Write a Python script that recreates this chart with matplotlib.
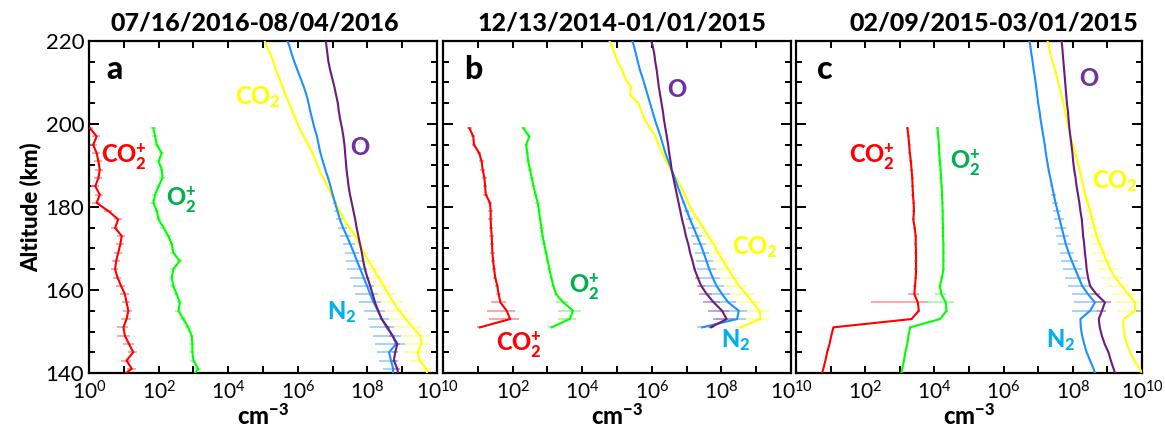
import numpy as np
import matplotlib
matplotlib.use("Agg")
import matplotlib.pyplot as plt
from matplotlib.ticker import FixedLocator, FixedFormatter, MultipleLocator

# Fuentes (parecido a Calibri)
plt.rcParams["font.family"] = "Lato"
plt.rcParams["mathtext.fontset"] = "custom"
plt.rcParams["mathtext.rm"] = "Lato"
plt.rcParams["mathtext.bf"] = "Lato:black"
plt.rcParams["mathtext.it"] = "Lato:italic"
plt.rcParams["mathtext.default"] = "regular"

# ---------------- Datos (log10 de densidad, cm^-3) ----------------
titulos = ["07/16/2016-08/04/2016", "12/13/2014-01/01/2015", "02/09/2015-03/01/2015"]
letras = ["a", "b", "c"]

alt_ion = [199, 197, 195, 193, 191, 189, 187, 185, 183, 181,
           179, 177, 175, 173, 171, 169, 167, 165, 163, 161,
           159, 157, 155, 153, 151, 149, 147, 145, 143, 141, 139]
alt_neu = [221, 219, 217, 215, 213, 211, 209, 207, 205, 203,
           201, 199, 197, 195, 193, 191, 189, 187, 185, 183,
           181, 179, 177, 175, 173, 171, 169, 167, 165, 163,
           161, 159, 157, 155, 153, 151, 149, 147, 145, 143, 141, 139]
alt_ion_b = [199, 197, 195, 193, 191, 189, 187, 185, 183, 181,
             179, 177, 175, 173, 171, 169, 167, 165, 163, 161,
             159, 157, 155, 153, 151]
alt_neu_b = [221, 219, 217, 215, 213, 211, 209, 207, 205, 203,
             201, 199, 197, 195, 193, 191, 189, 187, 185, 183,
             181, 179, 177, 175, 173, 171, 169, 167, 165, 163,
             161, 159, 157, 155, 153, 151]

# Panel a
co2p_a = [0.03, 0.22, 0.12, 0.22, 0.27, 0.31, 0.27, 0.18, 0.31, 0.22,
          0.56, 0.84, 0.75, 0.94, 0.90, 0.84, 0.78, 0.75, 0.82, 0.92,
          1.03, 1.08, 1.13, 1.08, 0.99, 1.03, 1.15, 1.27, 1.08, 1.23, 0.89]
o2p_a = [1.85, 1.90, 1.95, 2.09, 2.00, 2.09, 2.11, 2.00, 1.90, 1.85,
         1.95, 2.00, 2.14, 2.28, 2.38, 2.42, 2.61, 2.42, 2.38, 2.42,
         2.52, 2.61, 2.57, 2.71, 2.85, 2.95, 2.97, 2.97, 3.00, 3.14, 2.95]
co2_a = [5.00, 5.10, 5.20, 5.30, 5.37, 5.47, 5.56, 5.65, 5.75, 5.85,
         5.94, 6.05, 6.17, 6.30, 6.42, 6.52, 6.61, 6.73, 6.85, 6.97,
         7.08, 7.20, 7.33, 7.48, 7.66, 7.78, 7.90, 8.03, 8.18, 8.32,
         8.47, 8.61, 8.75, 8.92, 9.10, 9.30, 9.52, 9.56, 9.44, 9.50, 9.70, 9.72]
n2_a = [5.65, 5.75, 5.82, 5.90, 5.99, 6.08, 6.17, 6.25, 6.31, 6.36,
        6.42, 6.48, 6.55, 6.60, 6.65, 6.72, 6.79, 6.87, 6.94, 7.00,
        7.07, 7.14, 7.21, 7.30, 7.41, 7.51, 7.61, 7.70, 7.80, 7.89,
        7.99, 8.08, 8.18, 8.30, 8.42, 8.55, 8.72, 8.83, 8.62, 8.68, 8.74, 8.72]
o_a = [6.79, 6.82, 6.85, 6.88, 6.93, 6.99, 7.05, 7.10, 7.15, 7.18,
       7.22, 7.27, 7.31, 7.34, 7.36, 7.38, 7.40, 7.43, 7.46, 7.50,
       7.55, 7.60, 7.65, 7.69, 7.74, 7.79, 7.84, 7.88, 7.93, 8.00,
       8.08, 8.15, 8.22, 8.31, 8.41, 8.58, 8.72, 8.86, 8.80, 8.76, 8.86, 8.90]

# errores relativos (fraccion de la densidad)
err_co2p_a = [0.25, 0.25, 0.25, 0.25, 0.25, 0.25, 0.25, 0.25, 0.25, 0.25,
              0.25, 0.25, 0.25, 0.25, 0.25, 0.25, 0.25, 0.25, 0.25, 0.28,
              0.28, 0.28, 0.30, 0.30, 0.35, 0.40, 0.35, 0.30, 0.30, 0.28, 0.28]
err_o2p_a = [0.18, 0.18, 0.18, 0.18, 0.18, 0.18, 0.18, 0.18, 0.18, 0.18,
             0.18, 0.18, 0.18, 0.18, 0.18, 0.18, 0.18, 0.18, 0.18, 0.18,
             0.18, 0.18, 0.18, 0.18, 0.18, 0.18, 0.18, 0.18, 0.18, 0.18, 0.18]
err_co2_a = [0.08, 0.08, 0.08, 0.08, 0.08, 0.08, 0.08, 0.08, 0.08, 0.08,
             0.08, 0.08, 0.08, 0.08, 0.08, 0.08, 0.08, 0.08, 0.08, 0.08,
             0.10, 0.12, 0.15, 0.20, 0.25, 0.30, 0.38, 0.45, 0.50, 0.55,
             0.60, 0.65, 0.70, 0.72, 0.75, 0.78, 0.83, 0.79, 0.55, 0.50, 0.40, 0.35]
err_n2_a = [0.05, 0.05, 0.05, 0.05, 0.05, 0.05, 0.05, 0.05, 0.05, 0.05,
            0.05, 0.05, 0.05, 0.05, 0.05, 0.05, 0.05, 0.05, 0.05, 0.10,
            0.15, 0.20, 0.25, 0.30, 0.35, 0.40, 0.43, 0.50, 0.58, 0.58,
            0.60, 0.63, 0.63, 0.60, 0.60, 0.67, 0.73, 0.76, 0.55, 0.55, 0.50, 0.50]
err_o_a = [0.05, 0.05, 0.05, 0.05, 0.05, 0.05, 0.05, 0.05, 0.05, 0.05,
           0.05, 0.05, 0.05, 0.05, 0.05, 0.05, 0.05, 0.05, 0.05, 0.05,
           0.05, 0.05, 0.05, 0.05, 0.05, 0.05, 0.05, 0.05, 0.05, 0.05,
           0.05, 0.05, 0.08, 0.10, 0.12, 0.15, 0.20, 0.20, 0.20, 0.20, 0.20, 0.20]

# Panel b
co2p_b = [0.76, 0.87, 0.89, 1.04, 1.11, 1.14, 1.19, 1.21, 1.23, 1.35,
          1.37, 1.37, 1.38, 1.40, 1.41, 1.42, 1.44, 1.47, 1.50, 1.56,
          1.60, 1.65, 1.83, 1.93, 1.06]
o2p_b = [2.31, 2.48, 2.39, 2.42, 2.45, 2.50, 2.55, 2.60, 2.66, 2.72,
         2.76, 2.79, 2.83, 2.86, 2.91, 2.96, 3.01, 3.06, 3.11, 3.17,
         3.25, 3.46, 3.74, 3.64, 3.12]
co2_b = [4.72, 4.85, 4.93, 5.02, 5.15, 5.23, 5.40, 5.38, 5.61, 5.71,
         5.80, 5.95, 6.10, 6.20, 6.30, 6.42, 6.55, 6.69, 6.83, 6.95,
         7.05, 7.17, 7.32, 7.48, 7.62, 7.78, 7.90, 8.05, 8.20, 8.35,
         8.50, 8.72, 8.90, 9.10, 9.12, 8.55]
n2_b = [5.40, 5.48, 5.54, 5.60, 5.66, 5.74, 5.81, 5.88, 5.95, 6.02,
        6.09, 6.17, 6.25, 6.32, 6.39, 6.48, 6.57, 6.66, 6.74, 6.83,
        6.92, 7.01, 7.10, 7.20, 7.30, 7.40, 7.49, 7.57, 7.65, 7.75,
        7.86, 8.02, 8.20, 8.50, 8.45, 7.45]
o_b = [5.95, 6.02, 6.07, 6.10, 6.14, 6.17, 6.20, 6.24, 6.28, 6.32,
       6.35, 6.39, 6.43, 6.47, 6.50, 6.54, 6.57, 6.62, 6.67, 6.72,
       6.77, 6.82, 6.87, 6.93, 6.98, 7.05, 7.10, 7.17, 7.23, 7.32,
       7.42, 7.58, 7.78, 8.02, 8.15, 7.70]

err_co2p_b = [0.15, 0.15, 0.15, 0.15, 0.15, 0.15, 0.15, 0.15, 0.15, 0.15,
              0.15, 0.15, 0.15, 0.15, 0.15, 0.15, 0.15, 0.15, 0.15, 0.15,
              0.15, 0.45, 0.73, 0.75, 0.20]
err_o2p_b = [0.15, 0.15, 0.15, 0.15, 0.15, 0.15, 0.15, 0.15, 0.15, 0.15,
             0.15, 0.15, 0.15, 0.15, 0.15, 0.15, 0.15, 0.15, 0.15, 0.15,
             0.15, 0.40, 0.63, 0.55, 0.20]
err_co2_b = [0.10, 0.10, 0.10, 0.10, 0.10, 0.10, 0.10, 0.10, 0.10, 0.10,
             0.10, 0.10, 0.10, 0.10, 0.10, 0.10, 0.10, 0.10, 0.10, 0.10,
             0.10, 0.15, 0.20, 0.28, 0.35, 0.42, 0.48, 0.52, 0.58, 0.62,
             0.66, 0.70, 0.75, 0.80, 0.80, 0.30]
err_n2_b = [0.05, 0.05, 0.05, 0.05, 0.05, 0.05, 0.05, 0.05, 0.05, 0.05,
            0.05, 0.05, 0.05, 0.05, 0.05, 0.05, 0.05, 0.05, 0.05, 0.05,
            0.10, 0.15, 0.22, 0.30, 0.35, 0.40, 0.45, 0.50, 0.55, 0.58,
            0.62, 0.65, 0.70, 0.75, 0.75, 0.30]
err_o_b = [0.05, 0.05, 0.05, 0.05, 0.05, 0.05, 0.05, 0.05, 0.05, 0.05,
           0.05, 0.05, 0.05, 0.05, 0.05, 0.05, 0.05, 0.05, 0.05, 0.05,
           0.05, 0.05, 0.05, 0.05, 0.05, 0.05, 0.05, 0.05, 0.10, 0.15,
           0.25, 0.40, 0.50, 0.60, 0.60, 0.20]

# Panel c
co2p_c = [3.22, 3.25, 3.27, 3.29, 3.32, 3.34, 3.36, 3.37, 3.38, 3.40,
          3.41, 3.39, 3.43, 3.46, 3.46, 3.47, 3.47, 3.47, 3.46, 3.44,
          3.42, 3.52, 3.55, 3.34, 1.08, 1.02, 0.97, 0.90, 0.85, 0.79, 0.72]
o2p_c = [4.09, 4.11, 4.13, 4.14, 4.16, 4.18, 4.19, 4.21, 4.22, 4.23,
         4.24, 4.24, 4.25, 4.25, 4.26, 4.26, 4.26, 4.26, 4.22, 4.16,
         4.20, 4.33, 4.35, 4.16, 3.30, 3.25, 3.22, 3.16, 3.12, 3.07, 3.02]
co2_c = [7.24, 7.30, 7.35, 7.41, 7.49, 7.55, 7.61, 7.67, 7.73, 7.78,
         7.83, 7.88, 7.93, 8.00, 8.07, 8.13, 8.20, 8.25, 8.30, 8.36,
         8.43, 8.50, 8.56, 8.62, 8.69, 8.78, 8.88, 8.98, 9.08, 9.23,
         9.42, 9.60, 9.80, 9.80, 9.47, 9.46, 9.50, 9.56, 9.65, 9.78, 9.94, 10.05]
n2_c = [6.72, 6.77, 6.80, 6.84, 6.87, 6.91, 6.94, 6.97, 7.00, 7.04,
        7.07, 7.11, 7.15, 7.19, 7.22, 7.26, 7.30, 7.35, 7.40, 7.45,
        7.50, 7.56, 7.62, 7.68, 7.74, 7.80, 7.88, 7.97, 8.07, 8.17,
        8.27, 8.44, 8.64, 8.50, 8.22, 8.23, 8.27, 8.33, 8.40, 8.50, 8.60, 8.68]
o_c = [7.66, 7.69, 7.71, 7.73, 7.75, 7.77, 7.79, 7.81, 7.83, 7.86,
       7.88, 7.90, 7.93, 7.96, 7.99, 8.01, 8.04, 8.08, 8.11, 8.15,
       8.19, 8.22, 8.26, 8.28, 8.30, 8.33, 8.35, 8.38, 8.40, 8.44,
       8.50, 8.68, 8.93, 8.84, 8.75, 8.78, 8.84, 8.92, 9.03, 9.10, 9.18, 9.25]

err_co2p_c = [0.10, 0.10, 0.10, 0.10, 0.10, 0.10, 0.10, 0.10, 0.10, 0.10,
              0.10, 0.10, 0.10, 0.10, 0.10, 0.10, 0.10, 0.10, 0.10, 0.10,
              0.35, 0.955, 0.10, 0.10, 0.05, 0.05, 0.05, 0.05, 0.05, 0.05, 0.05]
err_o2p_c = [0.10, 0.10, 0.10, 0.10, 0.10, 0.10, 0.10, 0.10, 0.10, 0.10,
             0.10, 0.10, 0.10, 0.10, 0.10, 0.10, 0.10, 0.10, 0.10, 0.10,
             0.35, 0.72, 0.10, 0.10, 0.05, 0.05, 0.05, 0.05, 0.05, 0.05, 0.05]
err_co2_c = [0.05, 0.05, 0.05, 0.05, 0.05, 0.05, 0.05, 0.05, 0.05, 0.05,
             0.05, 0.05, 0.05, 0.05, 0.05, 0.05, 0.05, 0.05, 0.10, 0.15,
             0.20, 0.25, 0.30, 0.35, 0.40, 0.45, 0.50, 0.52, 0.55, 0.60,
             0.62, 0.65, 0.75, 0.70, 0.0, 0.0, 0.0, 0.0, 0.0, 0.0, 0.0, 0.0]
err_n2_c = [0.05, 0.05, 0.05, 0.05, 0.05, 0.05, 0.05, 0.05, 0.05, 0.05,
            0.05, 0.05, 0.05, 0.05, 0.05, 0.05, 0.05, 0.05, 0.10, 0.15,
            0.20, 0.25, 0.30, 0.35, 0.40, 0.42, 0.45, 0.50, 0.55, 0.60,
            0.62, 0.65, 0.75, 0.70, 0.0, 0.0, 0.0, 0.0, 0.0, 0.0, 0.0, 0.0]
err_o_c = [0.05, 0.05, 0.05, 0.05, 0.05, 0.05, 0.05, 0.05, 0.05, 0.05,
           0.05, 0.05, 0.05, 0.05, 0.05, 0.05, 0.05, 0.05, 0.05, 0.05,
           0.05, 0.05, 0.05, 0.05, 0.05, 0.05, 0.05, 0.05, 0.05, 0.05,
           0.05, 0.30, 0.50, 0.30, 0.0, 0.0, 0.0, 0.0, 0.0, 0.0, 0.0, 0.0]

# ---------------- Estilos ----------------
col_linea = {"co2p": "#FF0000", "o2p": "#00FF00", "co2": "#FFFF00",
             "n2": "#1E8FFF", "o": "#6B1A7E"}
col_barra = {"co2p": "#FF8C8C", "o2p": "#8CFF8C", "co2": "#FFFF8C",
             "n2": "#8CC6FF", "o": "#B48CC4"}
col_texto = {"co2p": "#FF0000", "o2p": "#00B050", "co2": "#FFFF00",
             "n2": "#00B0F0", "o": "#7030A0"}
etiqueta = {"co2p": r"CO$_\mathbf{2}^\mathbf{+}$", "o2p": r"O$_\mathbf{2}^\mathbf{+}$",
            "co2": r"CO$_\mathbf{2}$", "n2": r"N$_\mathbf{2}$", "o": "O"}

paneles = [
    {"ion": alt_ion, "neu": alt_neu,
     "series": {"co2p": (co2p_a, err_co2p_a), "o2p": (o2p_a, err_o2p_a),
                "co2": (co2_a, err_co2_a), "n2": (n2_a, err_n2_a), "o": (o_a, err_o_a)},
     "pos": {"co2": (0.42, 0.83), "o": (0.75, 0.68), "co2p": (0.035, 0.65),
             "o2p": (0.22, 0.52), "n2": (0.685, 0.185)},
     "rect": [89 / 1165, 61 / 434, 348 / 1165, 332 / 434], "tx": 0.477},
    {"ion": alt_ion_b, "neu": alt_neu_b,
     "series": {"co2p": (co2p_b, err_co2p_b), "o2p": (o2p_b, err_o2p_b),
                "co2": (co2_b, err_co2_b), "n2": (n2_b, err_n2_b), "o": (o_b, err_o_b)},
     "pos": {"co2": (0.83, 0.38), "o": (0.645, 0.855), "co2p": (0.152, 0.085),
             "o2p": (0.362, 0.26), "n2": (0.80, 0.10)},
     "rect": [443 / 1165, 61 / 434, 348 / 1165, 332 / 434], "tx": 0.514},
    {"ion": alt_ion, "neu": alt_neu,
     "series": {"co2p": (co2p_c, err_co2p_c), "o2p": (o2p_c, err_o2p_c),
                "co2": (co2_c, err_co2_c), "n2": (n2_c, err_n2_c), "o": (o_c, err_o_c)},
     "pos": {"co2": (0.855, 0.578), "o": (0.82, 0.886), "co2p": (0.153, 0.65),
             "o2p": (0.445, 0.632), "n2": (0.723, 0.10)},
     "rect": [796 / 1165, 61 / 434, 346 / 1165, 332 / 434], "tx": 0.572},
]

fig = plt.figure(figsize=(11.65, 4.34), dpi=100)
PESO = "black"

for i, p in enumerate(paneles):
    ax = fig.add_axes(p["rect"])
    for clave in ["co2p", "o2p", "co2", "n2", "o"]:
        logn, err = p["series"][clave]
        alt = p["ion"] if clave in ("co2p", "o2p") else p["neu"]
        n = 10.0 ** np.array(logn)
        e = n * np.array(err)
        ax.errorbar(n, alt, xerr=e, fmt="none", ecolor=col_barra[clave],
                    elinewidth=1.1, capsize=0, zorder=2)
        ax.plot(n, alt, color=col_linea[clave], lw=1.5, zorder=3)
        tx, ty = p["pos"][clave]
        ax.text(tx, ty, etiqueta[clave], transform=ax.transAxes, color=col_texto[clave],
                fontsize=17, fontweight=PESO, ha="left", va="center", zorder=5)

    ax.set_xscale("log")
    ax.set_xlim(1, 1e10)
    ax.set_ylim(140, 220)

    dec = 10.0 ** np.arange(0, 11)
    etiq = ["10$^{%d}$" % k if k % 2 == 0 else "" for k in range(11)]
    if i > 0:
        etiq[0] = ""
    ax.xaxis.set_major_locator(FixedLocator(dec))
    ax.xaxis.set_major_formatter(FixedFormatter(etiq))
    ax.xaxis.set_minor_locator(FixedLocator([]))
    ax.yaxis.set_major_locator(MultipleLocator(20))
    ax.yaxis.set_minor_locator(MultipleLocator(5))

    ax.tick_params(axis="x", which="major", direction="in", length=5, width=1.4,
                   top=True, labelsize=15, pad=5)
    ax.tick_params(axis="y", which="major", direction="in", length=7, width=1.4,
                   right=True, labelsize=16)
    ax.tick_params(axis="y", which="minor", direction="in", length=4.5, width=1.4,
                   right=True)
    if i > 0:
        ax.tick_params(axis="y", labelleft=False)
    else:
        ax.set_ylabel("Altitude (km)", fontsize=16, fontweight=PESO, labelpad=3)
    for s in ax.spines.values():
        s.set_linewidth(1.6)

    ax.set_xlabel(r"cm$^{\mathbf{-3}}$", fontsize=17, fontweight=PESO, labelpad=0)
    ax.text(p["tx"], 1.02, titulos[i], transform=ax.transAxes, ha="center", va="bottom",
            fontsize=18, fontweight=PESO)
    ax.text(0.05 if i == 0 else 0.06, 0.915, letras[i], transform=ax.transAxes,
            ha="left", va="center", fontsize=23, fontweight=PESO)

fig.savefig("out.png", dpi=100)
plt.close()
